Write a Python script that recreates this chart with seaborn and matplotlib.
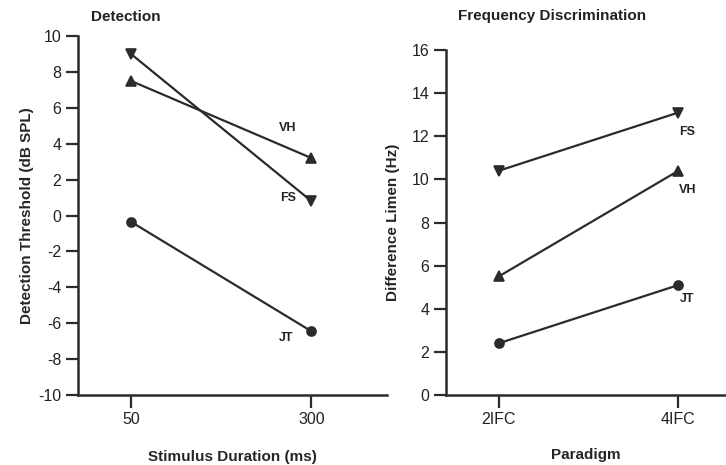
import matplotlib
matplotlib.use("Agg")
import matplotlib.pyplot as plt
import seaborn as sns
import pandas as pd

# Detection panel
durations = ["50", "300"]
det_fs = [9.0, 0.8]
det_vh = [7.5, 3.2]
det_jt = [-0.35, -6.45]

# Frequency discrimination panel
paradigms = ["2IFC", "4IFC"]
fd_fs = [10.4, 13.1]
fd_vh = [5.5, 10.4]
fd_jt = [2.4, 5.1]

subjects = ["FS", "VH", "JT"]
markers = {"FS": "v", "VH": "^", "JT": "o"}
msizes = {"FS": 7.5, "VH": 7.5, "JT": 6.5}

sns.set_style("ticks")
plt.rcParams["font.family"] = ["Liberation Sans", "DejaVu Sans"]
plt.rcParams["axes.unicode_minus"] = False

ink = "#2b2b2b"

fig = plt.figure(figsize=(7.26, 4.65), dpi=100, facecolor="white")
ax1 = fig.add_axes([0.1074, 0.1505, 0.426, 0.772])
ax2 = fig.add_axes([0.6143, 0.1505, 0.3857, 0.742])


def draw(ax, cats, series):
    for name, vals in zip(subjects, series):
        df = pd.DataFrame({"x": cats, "y": vals})
        sns.pointplot(data=df, x="x", y="y", order=cats, color=ink,
                      marker=markers[name], markersize=msizes[name],
                      linewidth=1.6, errorbar=None, ax=ax)


draw(ax1, durations, [det_fs, det_vh, det_jt])
draw(ax2, paradigms, [fd_fs, fd_vh, fd_jt])

for ax in (ax1, ax2):
    sns.despine(ax=ax)
    ax.spines["left"].set_linewidth(1.8)
    ax.spines["bottom"].set_linewidth(1.8)
    ax.spines["left"].set_color(ink)
    ax.spines["bottom"].set_color(ink)
    ax.tick_params(axis="both", direction="out", length=9, width=1.6,
                   color=ink, labelsize=11.5, labelcolor="#222222", pad=3)
    ax.set_facecolor("white")

ax1.set_xlim(-0.294, 1.42)
ax1.set_ylim(-10, 10)
ax1.set_yticks(range(-10, 11, 2))
ax1.set_xlabel("Stimulus Duration (ms)", fontsize=11, fontweight="bold",
               labelpad=17)
ax1.set_ylabel("Detection Threshold (dB SPL)", fontsize=11, fontweight="bold",
               labelpad=3)

ax2.set_xlim(-0.294, 1.265)
ax2.set_ylim(0, 16)
ax2.set_yticks(range(0, 17, 2))
ax2.set_xlabel("Paradigm", fontsize=11, fontweight="bold", labelpad=15)
ax2.set_ylabel("Difference Limen (Hz)", fontsize=11, fontweight="bold",
               labelpad=8)

lab = dict(fontsize=9, fontweight="bold", color="#222222", ha="center",
           va="center")
ax1.text(0.87, 4.85, "VH", **lab)
ax1.text(0.87, 0.95, "FS", **lab)
ax1.text(0.86, -6.8, "JT", **lab)
ax2.text(1.05, 12.2, "FS", **lab)
ax2.text(1.05, 9.5, "VH", **lab)
ax2.text(1.05, 4.45, "JT", **lab)

fig.text(126 / 726, 1 - 17 / 465, "Detection", fontsize=11,
         fontweight="bold", ha="center", va="center", color="#222222")
fig.text(552 / 726, 1 - 16 / 465, "Frequency Discrimination", fontsize=11,
         fontweight="bold", ha="center", va="center", color="#222222")

fig.savefig("out.png", dpi=100, facecolor="white")
